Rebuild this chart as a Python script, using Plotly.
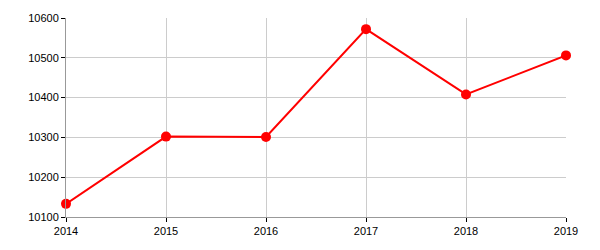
import plotly.graph_objects as go

years = [2014, 2015, 2016, 2017, 2018, 2019]
values = [10133, 10302, 10301, 10572, 10408, 10506]
x_ticks = [2014, 2015, 2016, 2017, 2018, 2019]
y_ticks = [10100, 10200, 10300, 10400, 10500, 10600]

fig = go.Figure()
fig.add_trace(go.Scatter(
    x=years, y=values, mode="lines+markers",
    line=dict(color="#ff0000", width=2),
    marker=dict(color="#ff0000", size=10),
    cliponaxis=False,
    showlegend=False,
))

fig.update_layout(
    width=600, height=250,
    margin=dict(l=66, r=34, t=15, b=33),
    paper_bgcolor="white", plot_bgcolor="white",
    font=dict(family="Liberation Sans, Arial, sans-serif", size=11, color="black"),
)
fig.update_xaxes(
    range=[2014, 2019], tickvals=x_ticks, ticktext=[str(v) for v in x_ticks],
    showgrid=True, gridcolor="#cccccc", gridwidth=1,
    showline=True, linecolor="#999999", linewidth=1,
    ticks="outside", ticklen=4, tickcolor="black",
    zeroline=False, fixedrange=True,
)
fig.update_yaxes(
    range=[10100, 10600], tickvals=y_ticks, ticktext=[str(v) for v in y_ticks],
    showgrid=True, gridcolor="#cccccc", gridwidth=1,
    showline=True, linecolor="#999999", linewidth=1,
    ticks="outside", ticklen=4, tickcolor="black",
    zeroline=False, fixedrange=True,
)

fig.write_html("out.html", config={"displayModeBar": False})
